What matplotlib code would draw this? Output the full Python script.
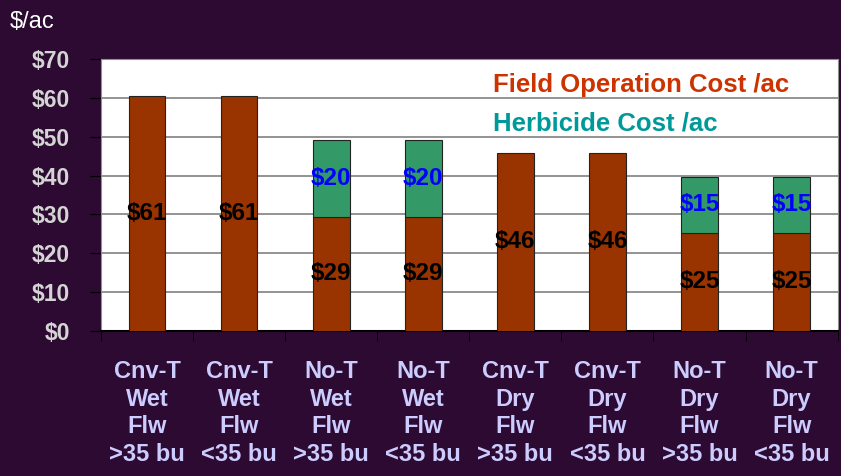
import numpy as np
import matplotlib.pyplot as plt

# ------------------------------------------------------------------
# data
# ------------------------------------------------------------------
categories = [
    "Cnv-T\nWet\nFlw\n>35 bu", "Cnv-T\nWet\nFlw\n<35 bu",
    "No-T\nWet\nFlw\n>35 bu", "No-T\nWet\nFlw\n<35 bu",
    "Cnv-T\nDry\nFlw\n>35 bu", "Cnv-T\nDry\nFlw\n<35 bu",
    "No-T\nDry\nFlw\n>35 bu", "No-T\nDry\nFlw\n<35 bu",
]
field_cost = [60.5, 60.5, 29.3, 29.3, 45.8, 45.8, 25.2, 25.2]
herb_cost = [0, 0, 19.8, 19.8, 0, 0, 14.5, 14.5]
field_labels = ["$61", "$61", "$29", "$29", "$46", "$46", "$25", "$25"]
herb_labels = ["", "", "$20", "$20", "", "", "$15", "$15"]
y_ticks = [0, 10, 20, 30, 40, 50, 60, 70]

BG = "#2c0a31"
BROWN = "#993300"
GREEN = "#339966"

plt.rcParams['font.family'] = ['Liberation Sans', 'DejaVu Sans']

fig = plt.figure(figsize=(8.41, 4.76), dpi=100, facecolor=BG)
ax = fig.add_axes([0.120, 0.305, 0.876, 0.571])
ax.set_facecolor("white")

x = np.arange(len(categories))
b1 = ax.bar(x, field_cost, width=0.40, color=BROWN, edgecolor="#222222", linewidth=0.8, zorder=3)
b2 = ax.bar(x, herb_cost, width=0.40, bottom=field_cost, color=GREEN,
            edgecolor="#222222", linewidth=0.8, zorder=3)
# hide empty herbicide segments
for r, h in zip(b2, herb_cost):
    if h == 0:
        r.set_visible(False)

ax.bar_label(b1, labels=field_labels, label_type="center", fontsize=17.5,
             fontweight="bold", color="black", zorder=4)
ax.bar_label(b2, labels=herb_labels, label_type="center", fontsize=17.5,
             fontweight="bold", color="#0000ff", zorder=4)

ax.set_xlim(-0.5, len(categories) - 0.5)
ax.set_ylim(0, 70)
ax.set_yticks(y_ticks)
ax.set_yticklabels([f"${v}" for v in y_ticks], fontsize=16.5, fontweight="bold", color="#d4d4d4")
ax.yaxis.grid(True, color="#808080", linewidth=1.2, zorder=1)
ax.set_axisbelow(True)

ax.set_xticks(x)
ax.set_xticklabels(categories, fontsize=17, fontweight="bold", color="#ccccff", linespacing=1.26)
ax.tick_params(axis="x", length=0, pad=21)
ax.set_xticks(np.arange(-0.5, len(categories)), minor=True)
ax.tick_params(axis="x", which="minor", length=7, color="black", direction="out")
ax.tick_params(axis="y", length=8, color="black", direction="out", pad=14)

for s in ["left", "top", "right"]:
    ax.spines[s].set_color("#909090")
ax.spines["bottom"].set_color("black")
ax.spines["bottom"].set_linewidth(1.5)

ax.text(0.532, 0.905, "Field Operation Cost /ac", transform=ax.transAxes,
        fontsize=18.5, fontweight="bold", color="#cc3300", va="center")
ax.text(0.532, 0.762, "Herbicide Cost /ac", transform=ax.transAxes,
        fontsize=18.5, fontweight="bold", color="#009999", va="center")

fig.text(0.012, 0.953, "$/ac", fontsize=17, color="white", va="center")

fig.savefig("out.png", dpi=100, facecolor=BG)
